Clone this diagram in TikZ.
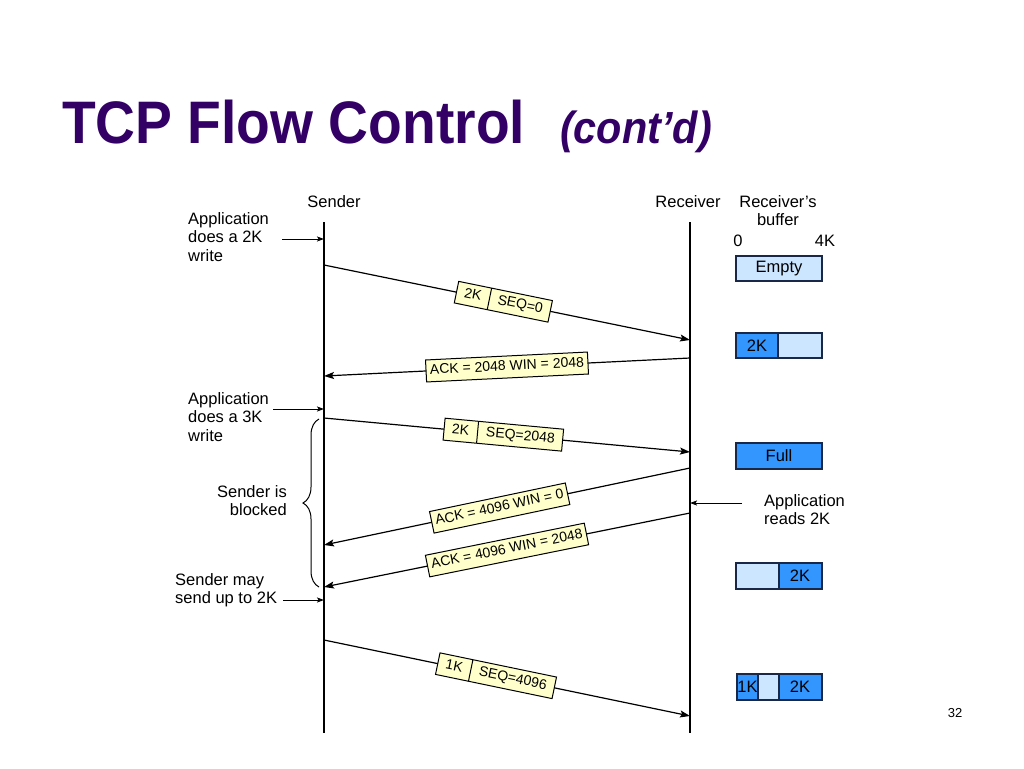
\documentclass[tikz,border=0pt]{standalone}
\usepackage{fontspec}
\setmainfont{Liberation Sans}
\usetikzlibrary{arrows.meta,shapes.multipart,decorations.pathreplacing}

\definecolor{titlepurple}{RGB}{51,0,102}
\definecolor{bufdark}{RGB}{51,150,255}
\definecolor{buflight}{RGB}{204,230,255}
\definecolor{bufline}{RGB}{25,40,70}
\definecolor{pktyellow}{RGB}{255,255,204}

\tikzset{
  txt/.style={font=\fontsize{16.5}{18.6}\selectfont, inner sep=0pt},
  tline/.style={line width=1.4pt},
  msg/.style={line width=1.2pt, -{Stealth[length=10pt,width=7pt,inset=2pt]}},
  note/.style={line width=1pt, -{Stealth[length=7pt,width=5pt,inset=1.5pt]}},
  pkt/.style={draw, line width=1pt, fill=pktyellow, sloped,
    font=\fontsize{14}{16}\selectfont,
    rectangle split, rectangle split horizontal, rectangle split parts=2,
    text height=10pt, text depth=3pt, inner xsep=8pt, inner ysep=4.5pt},
  ack/.style={draw, line width=1pt, fill=pktyellow, sloped,
    font=\fontsize{14}{16}\selectfont,
    text height=10pt, text depth=3pt, inner xsep=4pt, inner ysep=4.5pt},
  bufE/.style={draw=bufline, line width=1.2pt, fill=buflight},
  bufF/.style={draw=bufline, line width=1.2pt, fill=bufdark},
}

\begin{document}
\begin{tikzpicture}[x=1pt,y=1pt]
  \useasboundingbox (0,0) rectangle (1024,-768);

  % title
  \node[anchor=base west, xscale=0.92, inner sep=0pt, text=titlepurple,
    font=\fontsize{60}{60}\selectfont\bfseries] (ttl) at (62,-143) {TCP Flow Control};
  \node[anchor=base west, xscale=0.92, inner sep=0pt, text=titlepurple,
    font=\fontsize{45}{45}\selectfont\bfseries\itshape] (contd) at (560,-143) {(cont’d)};

  % time lines
  \coordinate (stop) at (324,-222);
  \coordinate (sbot) at (324,-733);
  \coordinate (rtop) at (690,-222);
  \coordinate (rbot) at (690,-733);
  \draw[tline] (stop) -- (sbot);
  \draw[tline] (rtop) -- (rbot);

  \node[txt] (snd) at (334,-202) {Sender};
  \node[txt] (rcv) at (688,-202) {Receiver};
  \node[txt, align=center, anchor=north] (buf) at (778,-195) {Receiver’s\\buffer};
  \node[txt] (zero) at (738,-241) {0};
  \node[txt] (four) at (825,-241) {4K};

  % messages
  \coordinate (s1) at (324,-265);
  \coordinate (r1) at (690,-340);
  \coordinate (r2) at (690,-358);
  \coordinate (s2) at (324,-376);
  \coordinate (s3) at (324,-418);
  \coordinate (r3) at (690,-452);
  \coordinate (r4) at (690,-468);
  \coordinate (s4) at (324,-545);
  \coordinate (r5) at (690,-513);
  \coordinate (s5) at (324,-587);
  \coordinate (s6) at (324,-640);
  \coordinate (r6) at (690,-716);

  \draw[msg] (s1) -- (r1) node[pkt, pos=0.49] (d1) {2K\nodepart{two}SEQ=0};
  \draw[msg] (r2) -- (s2) node[ack, pos=0.5] (a1) {ACK = 2048 WIN = 2048};
  \draw[msg] (s3) -- (r3) node[pkt, pos=0.49] (d2) {2K\nodepart{two}SEQ=2048};
  \draw[msg] (r4) -- (s4) node[ack, pos=0.52] (a2) {ACK = 4096 WIN = 0};
  \draw[msg] (r5) -- (s5) node[ack, pos=0.5] (a3) {ACK = 4096 WIN = 2048};
  \draw[msg] (s6) -- (r6) node[pkt, pos=0.47] (d3) {1K\nodepart{two}SEQ=4096};

  % notes on the left
  \node[txt, align=left, anchor=north west] (app2k) at (188,-212) {Application\\does a 2K\\write};
  \node[txt, align=left, anchor=north west] (app3k) at (188,-392) {Application\\does a 3K\\write};
  \node[txt, align=right, anchor=north east] (blk) at (287,-485) {Sender is\\blocked};
  \node[txt, align=left, anchor=north west] (may) at (175,-573) {Sender may\\send up to 2K};
  \node[txt, align=left, anchor=north west] (rd) at (764,-494) {Application\\reads 2K};

  \coordinate (n1a) at (282,-239);
  \coordinate (n1b) at (324,-239);
  \coordinate (n2a) at (273,-409);
  \coordinate (n2b) at (324,-409);
  \coordinate (n3a) at (283,-600);
  \coordinate (n3b) at (324,-600);
  \coordinate (n4a) at (742,-503);
  \coordinate (n4b) at (690,-503);
  \draw[note] (n1a) -- (n1b);
  \draw[note] (n2a) -- (n2b);
  \draw[note] (n3a) -- (n3b);
  \draw[note] (n4a) -- (n4b);

  \coordinate (bb) at (319,-587);
  \coordinate (bt) at (319,-419);
  \draw[line width=1pt, decorate, decoration={brace, amplitude=16pt}] (bb) -- (bt);

  % receiver's buffer
  \draw[bufE] (736,-256) rectangle (822,-281);
  \node[txt] (b1) at (779,-268.5) {Empty};
  \draw[bufF] (736,-333) rectangle (778,-358);
  \draw[bufE] (778,-333) rectangle (822,-358);
  \node[txt] (b2) at (757,-345.5) {2K};
  \draw[bufF] (736,-443) rectangle (822,-469);
  \node[txt] (b3) at (779,-456) {Full};
  \draw[bufE] (736,-563) rectangle (779,-589);
  \draw[bufF] (779,-563) rectangle (822,-589);
  \node[txt] (b4) at (800,-576) {2K};
  \draw[bufF] (737,-674) rectangle (758,-700);
  \draw[bufE] (758,-674) rectangle (779,-700);
  \draw[bufF] (779,-674) rectangle (822,-700);
  \node[txt] (b5) at (747.5,-687) {1K};
  \node[txt] (b6) at (800,-687) {2K};

  \node[font=\fontsize{13}{13}\selectfont, inner sep=0pt] (pg) at (955,-713) {32};
\end{tikzpicture}
\end{document}
